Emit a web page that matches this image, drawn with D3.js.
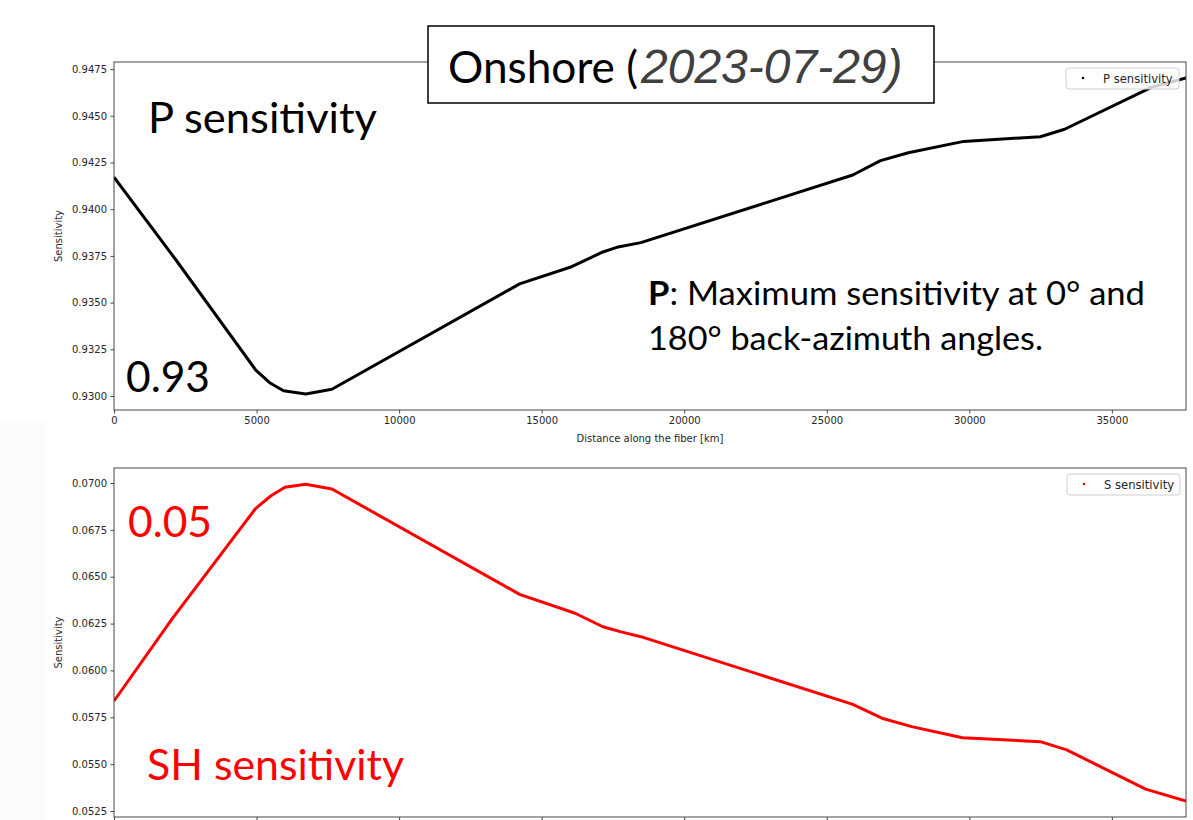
<!DOCTYPE html>
<head>
  <meta charset="utf-8">
  <style>
  body { margin: 0; background: #fff; }
  .axis text { font-family: "DejaVu Sans", sans-serif; font-size: 10px; fill: #262626; }
  .axis path, .axis line { stroke: #333; stroke-width: 0.9px; }
  .lbl { font-family: "DejaVu Sans", sans-serif; font-size: 10px; fill: #262626; }
  .note { font-family: Lato, "Open Sans", sans-serif; }
  </style>
  <script src="https://d3js.org/d3.v7.min.js"></script>
</head>

<body>
  <svg width="1193" height="820"></svg>

  <script>

  // distance along the fiber [km] and sensitivity values
  var pDist = [0, 2174, 4972, 5459, 5947, 6725, 7644, 14225, 16052, 17146, 17637, 18479, 25912, 26886, 27861, 29803, 32490, 33342, 36385, 37600];
  var pSens = [0.94171, 0.93728, 0.93139, 0.93071, 0.93028, 0.93011, 0.93036, 0.93600, 0.93692, 0.93771, 0.93796, 0.93821, 0.94183, 0.94260, 0.94302, 0.94363, 0.94388, 0.94428, 0.94652, 0.94702];

  var sDist = [0, 2051, 4972, 5508, 5996, 6725, 7644, 14225, 16175, 17146, 17756, 18479, 25912, 26935, 27980, 29762, 32490, 33415, 36185, 37600];
  var sSens = [0.05837, 0.06278, 0.06865, 0.06932, 0.06977, 0.06993, 0.06968, 0.06406, 0.06305, 0.06233, 0.06207, 0.06180, 0.05819, 0.05745, 0.05700, 0.05641, 0.05620, 0.05576, 0.05367, 0.05303];

  var xTicks = [0, 5000, 10000, 15000, 20000, 25000, 30000, 35000];
  var pTicks = [0.9300, 0.9325, 0.9350, 0.9375, 0.9400, 0.9425, 0.9450, 0.9475];
  var sTicks = [0.0525, 0.0550, 0.0575, 0.0600, 0.0625, 0.0650, 0.0675, 0.0700];

  var svg = d3.select("svg");

  // faint strip on the far left of the slide
  svg.append("rect").attr("x", 0).attr("y", 420).attr("width", 45).attr("height", 400)
    .attr("fill", "#fcfcfc");

  var left = 114, right = 1186;

  function panel(opts) {
    var g = svg.append("g");
    var x = d3.scaleLinear().domain([0, 37600]).range([left, right]);
    var y = d3.scaleLinear().domain(opts.yDomain).range([opts.bottom, opts.top]);

    g.append("clipPath").attr("id", opts.id)
      .append("rect").attr("x", left).attr("y", opts.top)
      .attr("width", right - left).attr("height", opts.bottom - opts.top);

    var line = d3.line()
      .x(function(d) { return x(d[0]); })
      .y(function(d) { return y(d[1]); });

    g.append("path")
      .datum(d3.zip(opts.xs, opts.ys))
      .attr("clip-path", "url(#" + opts.id + ")")
      .attr("fill", "none")
      .attr("stroke", opts.color)
      .attr("stroke-width", 3)
      .attr("stroke-linejoin", "round")
      .attr("d", line);

    // frame
    g.append("rect").attr("x", left).attr("y", opts.top)
      .attr("width", right - left).attr("height", opts.bottom - opts.top)
      .attr("fill", "none").attr("stroke", "#333").attr("stroke-width", 0.9);

    // bottom panel's tick labels fall below the picture, so only its marks show
    g.append("g").attr("class", "axis")
      .attr("transform", "translate(0," + opts.bottom + ")")
      .call(d3.axisBottom(x).tickValues(xTicks).tickSize(3.5).tickPadding(3.5)
        .tickFormat(opts.xLabels ? d3.format("d") : function() { return ""; }))
      .select(".domain").remove();

    g.append("g").attr("class", "axis")
      .attr("transform", "translate(" + left + ",0)")
      .call(d3.axisLeft(y).tickValues(opts.ticks).tickSize(3.5).tickPadding(3.5).tickFormat(d3.format(".4f")))
      .select(".domain").remove();

    g.append("text").attr("class", "lbl")
      .attr("transform", "translate(62," + (opts.top + opts.bottom) / 2 + ") rotate(-90)")
      .attr("text-anchor", "middle")
      .text("Sensitivity");

    // legend
    var lg = g.append("g").attr("transform", "translate(" + opts.legX + "," + opts.legY + ")");
    lg.append("rect").attr("width", 113).attr("height", 21).attr("rx", 3)
      .attr("fill", "#fff").attr("fill-opacity", 0.8)
      .attr("stroke", "#d0d0d0").attr("stroke-width", 1);
    lg.append("circle").attr("cx", 17).attr("cy", 10).attr("r", 1.3).attr("fill", opts.color);
    lg.append("text").attr("class", "lbl").attr("x", 37).attr("y", 14.5)
      .style("font-size", "11.6px").text(opts.legend);

    return g;
  }

  panel({ id: "clipP", top: 62, bottom: 410, yDomain: [0.92925, 0.94788], ticks: pTicks, xLabels: true,
          xs: pDist, ys: pSens, color: "#000", legend: "P sensitivity", legX: 1066, legY: 68 });

  panel({ id: "clipS", top: 468, bottom: 817, yDomain: [0.05218, 0.0708], ticks: sTicks, xLabels: false,
          xs: sDist, ys: sSens, color: "#ff0000", legend: "S sensitivity", legX: 1067, legY: 474 });

  svg.append("text").attr("class", "lbl")
    .attr("x", (left + right) / 2).attr("y", 442)
    .attr("text-anchor", "middle")
    .text("Distance along the fiber [km]");

  // title box
  svg.append("rect").attr("x", 428).attr("y", 26).attr("width", 506).attr("height", 77)
    .attr("fill", "#fff").attr("stroke", "#000").attr("stroke-width", 1.5);
  svg.append("text").attr("class", "note")
    .attr("x", 448).attr("y", 83).attr("font-size", 44)
    .attr("textLength", 190).attr("lengthAdjust", "spacingAndGlyphs")
    .text("Onshore (");
  svg.append("text")
    .attr("x", 641).attr("y", 83).attr("font-size", 48)
    .attr("font-family", "'Liberation Sans', Arial, sans-serif")
    .attr("font-style", "italic").attr("fill", "#404040")
    .text("2023-07-29)");

  // slide annotations
  function note(txt, x, y, size, w, color) {
    return svg.append("text").attr("class", "note")
      .attr("x", x).attr("y", y).attr("font-size", size)
      .attr("textLength", w).attr("lengthAdjust", "spacingAndGlyphs")
      .attr("fill", color).text(txt);
  }

  note("P sensitivity", 148, 133, 43, 229, "#000");
  note("0.93", 126, 392, 43, 84, "#000");
  note("0.05", 128, 537, 43, 84, "#ff0000");
  note("SH sensitivity", 147, 780, 43, 257, "#ff0000");

  var pn = svg.append("text").attr("class", "note")
    .attr("x", 648).attr("y", 305).attr("font-size", 33)
    .attr("textLength", 497).attr("lengthAdjust", "spacingAndGlyphs");
  pn.append("tspan").attr("font-weight", "bold").text("P");
  pn.append("tspan").text(": Maximum sensitivity at 0° and");
  note("180° back-azimuth angles.", 648, 350, 33, 395, "#000");

  </script>
</body>
